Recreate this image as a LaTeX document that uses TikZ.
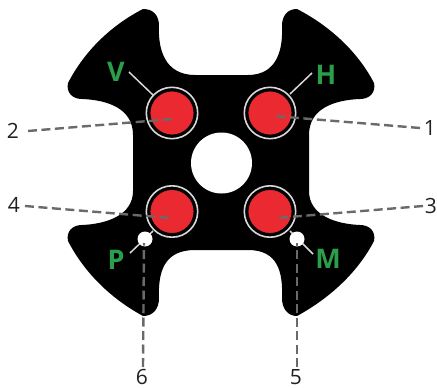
\documentclass[tikz,border=0pt]{standalone}
\usepackage{fontspec}
\setmainfont{Open Sans}
\definecolor{ledred}{HTML}{EA2A30}
\definecolor{ringgray}{HTML}{D8D8D8}
\definecolor{dashgray}{HTML}{6A6A6A}
\definecolor{lblgreen}{HTML}{2B9E4B}
\definecolor{numink}{HTML}{231F20}
\tikzset{
  led/.style={circle,fill=ledred,draw=black,line width=3.2pt,minimum size=46.4pt,inner sep=0pt,outer sep=0pt},
  ringmark/.style={draw=ringgray,line width=1.6pt},
  dotmark/.style={circle,fill=white,minimum size=15pt,inner sep=0pt,outer sep=0pt},
  leader/.style={draw=ringgray,line width=1.5pt},
  callout/.style={draw=dashgray,line width=2.4pt,dash pattern=on 9pt off 4.5pt},
  numlabel/.style={font=\fontsize{21}{21}\selectfont,text=numink,inner sep=0pt},
  letter/.style={font=\fontsize{27}{27}\selectfont\bfseries,text=lblgreen,inner sep=0pt}
}
\begin{document}
\begin{tikzpicture}[x=1pt,y=-1pt]
\useasboundingbox (0,0) rectangle (437,388);
% body
\fill[black] (143,9)
  .. controls (153,9) and (159,15) .. (159,26)
  .. controls (158,48) and (164,75) .. (195,75)
  -- (248,75)
  .. controls (278,75) and (283,48) .. (282,26)
  .. controls (282,15) and (288,9) .. (297,9)
  .. controls (330,26) and (358,52) .. (374,83)
  .. controls (376,92) and (370,99) .. (360,99)
  .. controls (335,100) and (309,108) .. (309,135)
  -- (309,191)
  .. controls (309,215) and (335,224) .. (360,225)
  .. controls (370,225) and (376,232) .. (374,241)
  .. controls (358,272) and (330,298) .. (297,316)
  .. controls (288,316) and (282,309) .. (282,298)
  .. controls (283,272) and (278,250) .. (248,250)
  -- (195,250)
  .. controls (164,250) and (158,272) .. (159,298)
  .. controls (159,309) and (153,316) .. (143,316)
  .. controls (110,298) and (84,272) .. (68,241)
  .. controls (66,232) and (72,225) .. (82,225)
  .. controls (107,224) and (133,215) .. (133,191)
  -- (133,135)
  .. controls (133,108) and (107,100) .. (82,99)
  .. controls (72,99) and (66,92) .. (68,83)
  .. controls (84,52) and (110,26) .. (143,9)
  -- cycle;
\node[circle,fill=white,minimum size=61pt,inner sep=0pt] (hole) at (221.5,163) {};
% LEDs
\node[led] (ledV) at (172,113) {};
\node[led] (ledH) at (270,113) {};
\node[led] (ledP) at (172,211.5) {};
\node[led] (ledM) at (270,211.5) {};
\foreach \n in {ledV,ledH,ledP,ledM} \draw[ringmark] (\n.center) circle[radius=25.7];
% letters
\node[letter] (V) at (116,72) {V};
\node[letter] (H) at (326,75) {H};
\node[letter] (P) at (116,260) {P};
\node[letter] (M) at (328,259) {M};
% leaders
\coordinate (vs) at (129,72); \coordinate (ve) at (153,95);
\coordinate (hs) at (312,73); \coordinate (he) at (290,94);
\coordinate (ps) at (130,253); \coordinate (pe) at (153,231);
\coordinate (ms) at (313,254); \coordinate (me) at (290,231);
\draw[leader] (vs) -- (ve);
\draw[leader] (hs) -- (he);
\draw[leader] (ps) -- (pe);
\draw[leader] (ms) -- (me);
\node[dotmark] (dotP) at (145,239) {};
\node[dotmark] (dotM) at (297,239) {};
% numbers
\node[numlabel] (n1) at (430,128) {1};
\node[numlabel] (n2) at (13,131) {2};
\node[numlabel] (n3) at (431,206) {3};
\node[numlabel] (n4) at (14,205) {4};
\node[numlabel] (n5) at (296,377) {5};
\node[numlabel] (n6) at (142,377) {6};
% callouts
\coordinate (c1) at (274,116); \coordinate (c2) at (173,119);
\coordinate (c3) at (277,218); \coordinate (c4) at (170,218);
\coordinate (e1) at (420,128); \coordinate (e2) at (28,131);
\coordinate (e3) at (423,206); \coordinate (e4) at (25,206);
\coordinate (e5) at (297,367); \coordinate (e6) at (143,367);
\coordinate (d5) at (297,243); \coordinate (d6) at (144,243);
\draw[callout] (e1) -- (c1);
\draw[callout] (e2) -- (c2);
\draw[callout] (e3) -- (c3);
\draw[callout] (e4) -- (c4);
\draw[callout] (e5) -- (d5);
\draw[callout] (e6) -- (d6);
\end{tikzpicture}
\end{document}
